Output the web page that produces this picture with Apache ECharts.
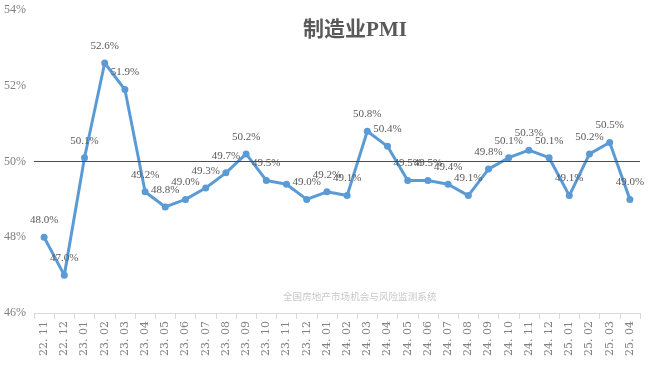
<!DOCTYPE html>
<html><head><meta charset="utf-8">
<script src="https://cdn.jsdelivr.net/npm/echarts@6/dist/echarts.min.js"></script>
<style>html,body{margin:0;padding:0;background:#fff}#c{width:659px;height:380px}</style>
</head><body><div id="c"></div>
<script>
const categories = ["22.11","22.12","23.01","23.02","23.03","23.04","23.05","23.06","23.07","23.08","23.09","23.10","23.11","23.12","24.01","24.02","24.03","24.04","24.05","24.06","24.07","24.08","24.09","24.10","24.11","24.12","25.01","25.02","25.03","25.04"];
const pmiValues = [48.0,47.0,50.1,52.6,51.9,49.2,48.8,49.0,49.3,49.7,50.2,49.5,49.4,49.0,49.2,49.1,50.8,50.4,49.5,49.5,49.4,49.1,49.8,50.1,50.3,50.1,49.1,50.2,50.5,49.0];
const hiddenLabelIdx = [12];
const yTicks = [46,48,50,52,54];
const titleText = "制造业PMI";
const watermark = "全国房地产市场机会与风险监测系统";
const serif = "'Liberation Serif','DejaVu Serif',serif";
const chart = echarts.init(document.getElementById('c'));
chart.setOption({
  animation:false,
  title:{text:titleText,left:350,top:15,textAlign:'center',textStyle:{fontFamily:"'Liberation Serif','Noto Sans CJK SC',serif",fontSize:21,fontWeight:'bold',color:'#595959'}},
  graphic:[{type:'text',left:283,top:292,style:{text:watermark,fill:'#c8c8c8',fontSize:9.6,fontFamily:"'Noto Sans CJK SC',sans-serif"}}],
  grid:{left:34,right:19,top:10,bottom:67},
  xAxis:{type:'category',data:categories,boundaryGap:true,
    axisLine:{lineStyle:{color:'#d9d9d9'}},
    axisTick:{show:true,alignWithLabel:false,length:6,lineStyle:{color:'#d9d9d9'}},
    axisLabel:{rotate:90,interval:0,color:'#808080',fontFamily:"'DejaVu Serif',serif",fontSize:11,margin:8,formatter:v=>v.replace('.','. ')}},
  yAxis:{type:'value',min:yTicks[0],max:yTicks[yTicks.length-1],interval:2,
    axisLine:{show:false},axisTick:{show:false},splitLine:{show:false},
    axisLabel:{color:'#808080',fontFamily:serif,fontSize:12,margin:8,formatter:v=>v+'%'}},
  series:[{type:'line',data:pmiValues.map((v,i)=>({value:v,label:{show:hiddenLabelIdx.indexOf(i)<0}})),
    lineStyle:{color:'#5b9bd5',width:3},itemStyle:{color:'#5b9bd5'},
    symbol:'circle',symbolSize:7,
    label:{show:true,position:'top',distance:8,color:'#595959',fontFamily:serif,fontSize:11,formatter:p=>p.value.toFixed(1)+'%'},
    markLine:{silent:true,symbol:'none',label:{show:false},lineStyle:{color:'#ff0000',width:1,type:'solid'},data:[{yAxis:50}]}
  }]
});
</script></body></html>
